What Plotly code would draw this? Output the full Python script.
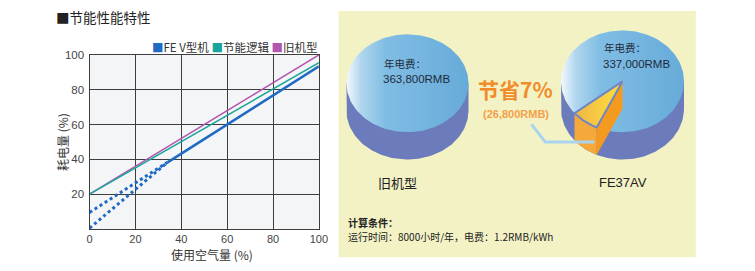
import numpy as np
import plotly.graph_objects as go

# ---------------- data ----------------
air_use = [0, 100]
old_model = [20, 100]
energy_logic = [20, 95.5]
fev_solid_x = [34, 100]
fev_solid_y = [38.3, 93.4]
fev_dot_x = [0, 34]
fev_dot_upper = [9.5, 38.3]
fev_dot_lower = [0.5, 38.3]

series_names = ["FE V型机", "节能逻辑", "旧机型"]
series_colors = ["#1f6bc4", "#1aa59c", "#b356ae"]

x_ticks = [0, 20, 40, 60, 80, 100]
y_ticks = [20, 40, 60, 80, 100]

old_cost = 363800
new_cost = 337000
saving = 26800

FONT = "Liberation Sans, Arial, Noto Sans CJK SC"
CJK = "Noto Sans CJK SC, Liberation Sans"

W, H = 755, 271

fig = go.Figure()

# ---------------- left line chart ----------------
fig.add_trace(go.Scatter(x=air_use, y=old_model, mode="lines",
                         line=dict(color=series_colors[2], width=1.5), showlegend=False))
fig.add_trace(go.Scatter(x=air_use, y=energy_logic, mode="lines",
                         line=dict(color=series_colors[1], width=1.5), showlegend=False))
fig.add_trace(go.Scatter(x=fev_dot_x, y=fev_dot_upper, mode="lines",
                         line=dict(color=series_colors[0], width=3, dash="3px,3px"), showlegend=False))
fig.add_trace(go.Scatter(x=fev_dot_x, y=fev_dot_lower, mode="lines",
                         line=dict(color=series_colors[0], width=3, dash="3px,3px"), showlegend=False))
fig.add_trace(go.Scatter(x=fev_solid_x, y=fev_solid_y, mode="lines",
                         line=dict(color=series_colors[0], width=2.6), showlegend=False))

# ---------------- right panel: 3D pies ----------------
def arc(cx, cy, rx, ry, t0, t1, n=80):
    t = np.radians(np.linspace(t0, t1, n))
    return cx + rx * np.cos(t), cy - ry * np.sin(t)

TOP_GRAD = [[0, "#f4f9fc"], [0.12, "#b0d6ee"], [0.32, "#80bde4"], [1, "#67abd9"]]
SIDE = "#6b7bbb"

def cylinder(cx, cy, rx, ry, d):
    bx, by = arc(cx, cy + d, rx, ry, 180, 360)
    sx = np.concatenate([[cx - rx], bx, [cx + rx]])
    sy = np.concatenate([[cy], by, [cy]])
    fig.add_trace(go.Scatter(x=sx, y=sy, xaxis="x2", yaxis="y2", mode="lines",
                             fill="toself", fillcolor=SIDE, line=dict(width=0),
                             showlegend=False, hoverinfo="skip"))
    tx, ty = arc(cx, cy, rx, ry, 0, 360, 160)
    fig.add_trace(go.Scatter(x=tx, y=ty, xaxis="x2", yaxis="y2", mode="lines",
                             fill="toself", fillgradient=dict(type="horizontal", colorscale=TOP_GRAD),
                             line=dict(width=0), showlegend=False, hoverinfo="skip"))

# old model pie (whole)
cylinder(411, 79, 62, 50, 28)

# new model pie with saving slice
cx, cy, rx, ry, d = 629.5, 77, 62.5, 52, 28
cylinder(cx, cy, rx, ry, d)
frac = saving / old_cost
span = 360 * frac
t_mid = 232
t1, t2 = t_mid - span / 2, t_mid + span / 2
ax_, ay_ = arc(cx, cy, rx, ry, t1, t2, 30)
bx_, by_ = arc(cx, cy + d, rx, ry, t2, t1, 30)
fig.add_trace(go.Scatter(x=np.concatenate([ax_, bx_]), y=np.concatenate([ay_, by_]),
                         xaxis="x2", yaxis="y2", mode="lines", fill="toself",
                         fillcolor="#f5a93a", line=dict(width=0),
                         showlegend=False, hoverinfo="skip"))
ex, ey = arc(cx, cy, rx, ry, t2, t2, 1)
fig.add_trace(go.Scatter(x=[cx, ex[0], ex[0], cx, cx], y=[cy, ey[0], ey[0] + d, cy + d, cy],
                         xaxis="x2", yaxis="y2", mode="lines", fill="toself",
                         fillcolor="#f39a1f", line=dict(width=0),
                         showlegend=False, hoverinfo="skip"))
wx = np.concatenate([[cx], ax_, [cx]])
wy = np.concatenate([[cy], ay_, [cy]])
fig.add_trace(go.Scatter(x=wx, y=wy, xaxis="x2", yaxis="y2", mode="lines", fill="toself",
                         fillgradient=dict(type="horizontal",
                                           colorscale=[[0, "#f0b445"], [1, "#fde23e"]]),
                         line=dict(width=2, color="#6f86c6"),
                         showlegend=False, hoverinfo="skip"))

# ---------------- layout ----------------
def px(x):
    return x / W

def py(y):
    return 1 - y / H

shapes = [
    dict(type="rect", xref="paper", yref="paper", x0=px(341), x1=px(704), y0=py(257), y1=py(5),
         fillcolor="#f2f2c5", line=dict(width=0), layer="below"),
    dict(type="rect", xref="x", yref="y", x0=0, x1=100, y0=0, y1=100,
         fillcolor="#f3f5f6", line=dict(width=0), layer="below"),
    dict(type="path", xref="x2", yref="y2", path="M 537 121 L 551 139 L 601 139",
         line=dict(color="#a9d3ee", width=3)),
]

legend_txt = "".join(
    f'<span style="color:{c}">■</span>{n} ' for n, c in zip(series_names, series_colors)
).strip()

TXT = "#1e2a3a"
ann = [
    dict(x=px(52), y=py(11), xref="paper", yref="paper", xanchor="left", yanchor="middle",
         text="■节能性能特性", showarrow=False, font=dict(family=CJK, size=13.5, color="#222")),
    dict(x=px(321), y=py(42), xref="paper", yref="paper", xanchor="right", yanchor="middle",
         text=legend_txt, showarrow=False, font=dict(family=CJK, size=11.5, color="#333")),
    dict(x=px(61), y=py(139), xref="paper", yref="paper", xanchor="center", yanchor="middle",
         text="耗电量 (%)", textangle=-90, showarrow=False, font=dict(family=CJK, size=12, color="#333")),
    dict(x=px(212), y=py(254), xref="paper", yref="paper", xanchor="center", yanchor="middle",
         text="使用空气量 (%)", showarrow=False, font=dict(family=CJK, size=12, color="#333")),
    dict(x=385, y=59, xref="x2", yref="y2", xanchor="left", yanchor="middle",
         text="年电费：", showarrow=False, font=dict(family=CJK, size=10.5, color=TXT)),
    dict(x=384, y=75, xref="x2", yref="y2", xanchor="left", yanchor="middle",
         text=f"{old_cost:,}RMB", showarrow=False, font=dict(family=FONT, size=11.5, color=TXT)),
    dict(x=609, y=42, xref="x2", yref="y2", xanchor="left", yanchor="middle",
         text="年电费：", showarrow=False, font=dict(family=CJK, size=10.5, color=TXT)),
    dict(x=608, y=59, xref="x2", yref="y2", xanchor="left", yanchor="middle",
         text=f"{new_cost:,}RMB", showarrow=False, font=dict(family=FONT, size=11.5, color=TXT)),
    dict(x=521, y=85, xref="x2", yref="y2", xanchor="center", yanchor="middle",
         text=f"<b>节省{round(frac * 100)}%</b>", showarrow=False,
         font=dict(family=CJK, size=21, color="#f28c28")),
    dict(x=521, y=110, xref="x2", yref="y2", xanchor="center", yanchor="middle",
         text=f"<b>({saving:,}RMB)</b>", showarrow=False,
         font=dict(family=FONT, size=11, color="#f5a04a")),
    dict(x=401, y=180, xref="x2", yref="y2", xanchor="center", yanchor="middle",
         text="旧机型", showarrow=False, font=dict(family=CJK, size=13, color="#222")),
    dict(x=630, y=180, xref="x2", yref="y2", xanchor="center", yanchor="middle",
         text="FE37AV", showarrow=False, font=dict(family=FONT, size=13, color="#222")),
    dict(x=349, y=221, xref="x2", yref="y2", xanchor="left", yanchor="middle",
         text="<b>计算条件：</b>", showarrow=False, font=dict(family=CJK, size=10, color="#222")),
    dict(x=349, y=236, xref="x2", yref="y2", xanchor="left", yanchor="middle",
         text="运行时间：8000小时/年，电费：1.2RMB/kWh", showarrow=False,
         font=dict(family=CJK, size=10, color="#222")),
]

GRID = "#3e3e3e"
fig.update_layout(
    width=W, height=H, margin=dict(l=0, r=0, t=0, b=0),
    paper_bgcolor="white", plot_bgcolor="rgba(0,0,0,0)",
    font=dict(family=FONT, size=11, color="#444"),
    showlegend=False,
    xaxis=dict(domain=[px(88), px(321)], range=[0, 100], tickvals=x_ticks,
               showgrid=True, gridcolor=GRID, gridwidth=1.3, zeroline=False,
               showline=True, linecolor=GRID, linewidth=1.3, mirror=True,
               ticks="", ticklen=0, ticklabelstandoff=0,
               tickfont=dict(size=11, color="#444"), fixedrange=True),
    yaxis=dict(domain=[py(228), py(50)], range=[0, 100], tickvals=y_ticks,
               showgrid=True, gridcolor=GRID, gridwidth=1.3, zeroline=False,
               showline=True, linecolor=GRID, linewidth=1.3, mirror=True,
               ticks="", ticklen=0, ticklabelstandoff=2,
               tickfont=dict(size=11.5, color="#444"), fixedrange=True),
    xaxis2=dict(domain=[px(341), px(704)], range=[341, 704], visible=False,
                anchor="y2", fixedrange=True),
    yaxis2=dict(domain=[py(257), py(5)], range=[257, 5], visible=False,
                anchor="x2", fixedrange=True),
    shapes=shapes,
    annotations=ann,
)

fig.write_html("out.html")
